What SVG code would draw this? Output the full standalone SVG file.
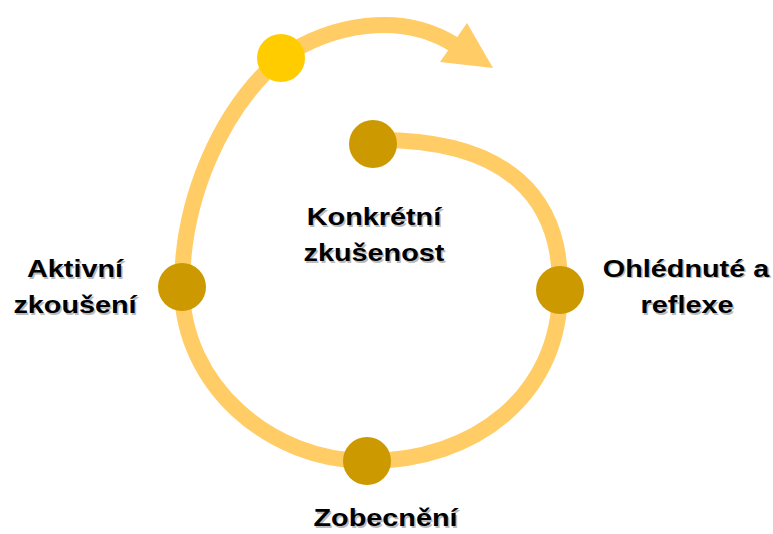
<svg xmlns="http://www.w3.org/2000/svg" width="773" height="534" viewBox="0 0 773 534">
<style>
.t{font-family:"Liberation Sans",Arial,sans-serif;font-weight:bold;font-size:24px;text-anchor:middle;fill:#000}
.s{font-family:"Liberation Sans",Arial,sans-serif;font-weight:bold;font-size:24px;text-anchor:middle;fill:#bbbbbb}
.dot{fill:#CC9900}
.arc{fill:none;stroke:#FFCC66;stroke-width:16}
</style>
<rect width="773" height="534" fill="#fff"/>
<g id="connectors">
<path class="arc" d="M373,140 C510,138 562,200 560,290 C560,395 475,461 367,461 C270,461 182,385 182,287 C182,200 220,110 281,58 C330,25 400,10 455,45"/>
<polygon points="467,23 493,68 440,62" fill="#FFCC66"/>
</g>
<g id="start"><circle cx="281" cy="58" r="24" fill="#FFCC00"/></g>
<g id="konkretni">
<circle class="dot" cx="373" cy="144" r="24"/>
<text class="s" transform="translate(375.5,226.5) scale(1.2,1)">Konkrétní</text><text class="s" transform="translate(375.5,262.5) scale(1.2,1)">zkušenost</text>
<text class="t" transform="translate(374,225) scale(1.2,1)">Konkrétní</text><text class="t" transform="translate(374,261) scale(1.2,1)">zkušenost</text>
</g>
<g id="reflexe">
<circle class="dot" cx="560" cy="290" r="24"/>
<text class="s" transform="translate(687.5,278) scale(1.2,1)">Ohlédnuté a</text><text class="s" transform="translate(688.5,314.5) scale(1.2,1)">reflexe</text>
<text class="t" transform="translate(686,276.5) scale(1.2,1)">Ohlédnuté a</text><text class="t" transform="translate(687,313) scale(1.2,1)">reflexe</text>
</g>
<g id="zobecneni">
<circle class="dot" cx="367" cy="461" r="24"/>
<text class="s" transform="translate(387,527.5) scale(1.2,1)">Zobecnění</text>
<text class="t" transform="translate(385.5,526) scale(1.2,1)">Zobecnění</text>
</g>
<g id="aktivni">
<circle class="dot" cx="182" cy="287" r="24"/>
<text class="s" transform="translate(76.5,278.5) scale(1.2,1)">Aktivní</text><text class="s" transform="translate(76.5,314.5) scale(1.2,1)">zkoušení</text>
<text class="t" transform="translate(75,277) scale(1.2,1)">Aktivní</text><text class="t" transform="translate(75,313) scale(1.2,1)">zkoušení</text>
</g>
</svg>
